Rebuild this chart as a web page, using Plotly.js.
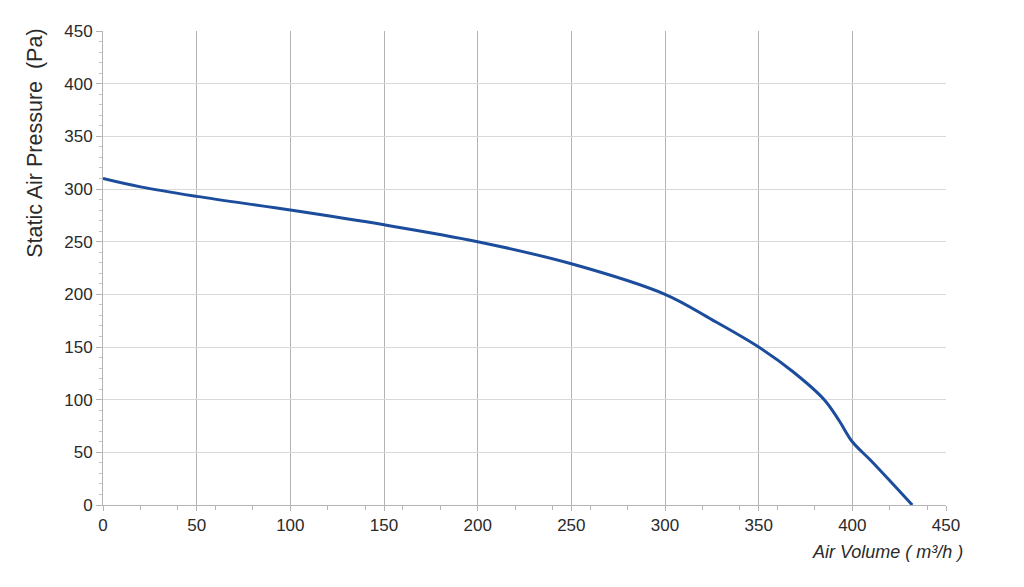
<!DOCTYPE html>
<html>
<head>
<meta charset="utf-8">
<script src="https://cdn.plot.ly/plotly-3.0.1.min.js"></script>
<style>html,body{margin:0;padding:0;background:#fff;}#chart{width:1024px;height:587px;}</style>
</head>
<body>
<div id="chart"></div>
<script>
const airVolume = [0, 20, 50, 100, 150, 200, 250, 300, 325, 350, 368, 385, 393, 400, 410, 432];
const pressure  = [310, 302, 293, 280, 266, 250, 229, 200, 176, 150, 127, 100, 80, 60, 42, 0];
const xTicks = [0, 50, 100, 150, 200, 250, 300, 350, 400, 450];
const yTicks = [0, 50, 100, 150, 200, 250, 300, 350, 400, 450];
const yTitle = 'Static Air Pressure  (Pa)';
const xTitle = 'Air Volume ( m³/h )';

const trace = {
  x: airVolume, y: pressure, type: 'scatter', mode: 'lines',
  line: {color: '#1c4c9c', width: 3, shape: 'spline', smoothing: 1},
  hoverinfo: 'skip'
};

const layout = {
  width: 1024, height: 587,
  margin: {l: 103, r: 78, t: 31, b: 82},
  paper_bgcolor: '#ffffff', plot_bgcolor: '#ffffff',
  showlegend: false,
  font: {family: 'Liberation Sans, Arial, sans-serif', color: '#2a2a2a', size: 17},
  xaxis: {
    range: [0, 450], tickvals: xTicks, ticktext: xTicks.map(String),
    showgrid: true, gridcolor: '#b4b4b4', gridwidth: 1,
    zeroline: false, showline: true, linecolor: '#b4b4b4', linewidth: 1,
    ticks: 'outside', ticklen: 5, tickcolor: '#b4b4b4',
    minor: {dtick: 20, tick0: 0, ticks: 'outside', ticklen: 4, tickcolor: '#b4b4b4', showgrid: false},
    tickfont: {size: 17, color: '#2a2a2a'}, fixedrange: true
  },
  yaxis: {
    range: [0, 450], tickvals: yTicks, ticktext: yTicks.map(String),
    showgrid: true, gridcolor: '#d9d9d9', gridwidth: 1,
    zeroline: false, showline: true, linecolor: '#b4b4b4', linewidth: 1,
    ticks: 'outside', ticklen: 6, tickcolor: '#b4b4b4',
    minor: {dtick: 10, tick0: 0, ticks: 'outside', ticklen: 3, tickcolor: '#c4c4c4', showgrid: false},
    tickfont: {size: 17, color: '#2a2a2a'}, fixedrange: true
  },
  annotations: [
    {text: yTitle, xref: 'paper', yref: 'paper', x: -0.0807, y: 0.764, textangle: -90,
     showarrow: false, xanchor: 'center', yanchor: 'middle',
     font: {size: 21.5, color: '#2a2a2a', family: 'Liberation Sans, Arial, sans-serif'}},
    {text: '<i>' + xTitle + '</i>', xref: 'paper', yref: 'paper', x: 0.931, y: -0.099,
     showarrow: false, xanchor: 'center', yanchor: 'middle',
     font: {size: 18, color: '#2a2a2a', family: 'Liberation Sans, Arial, sans-serif'}}
  ]
};

Plotly.newPlot('chart', [trace], layout, {displayModeBar: false, staticPlot: true});
</script>
</body>
</html>
